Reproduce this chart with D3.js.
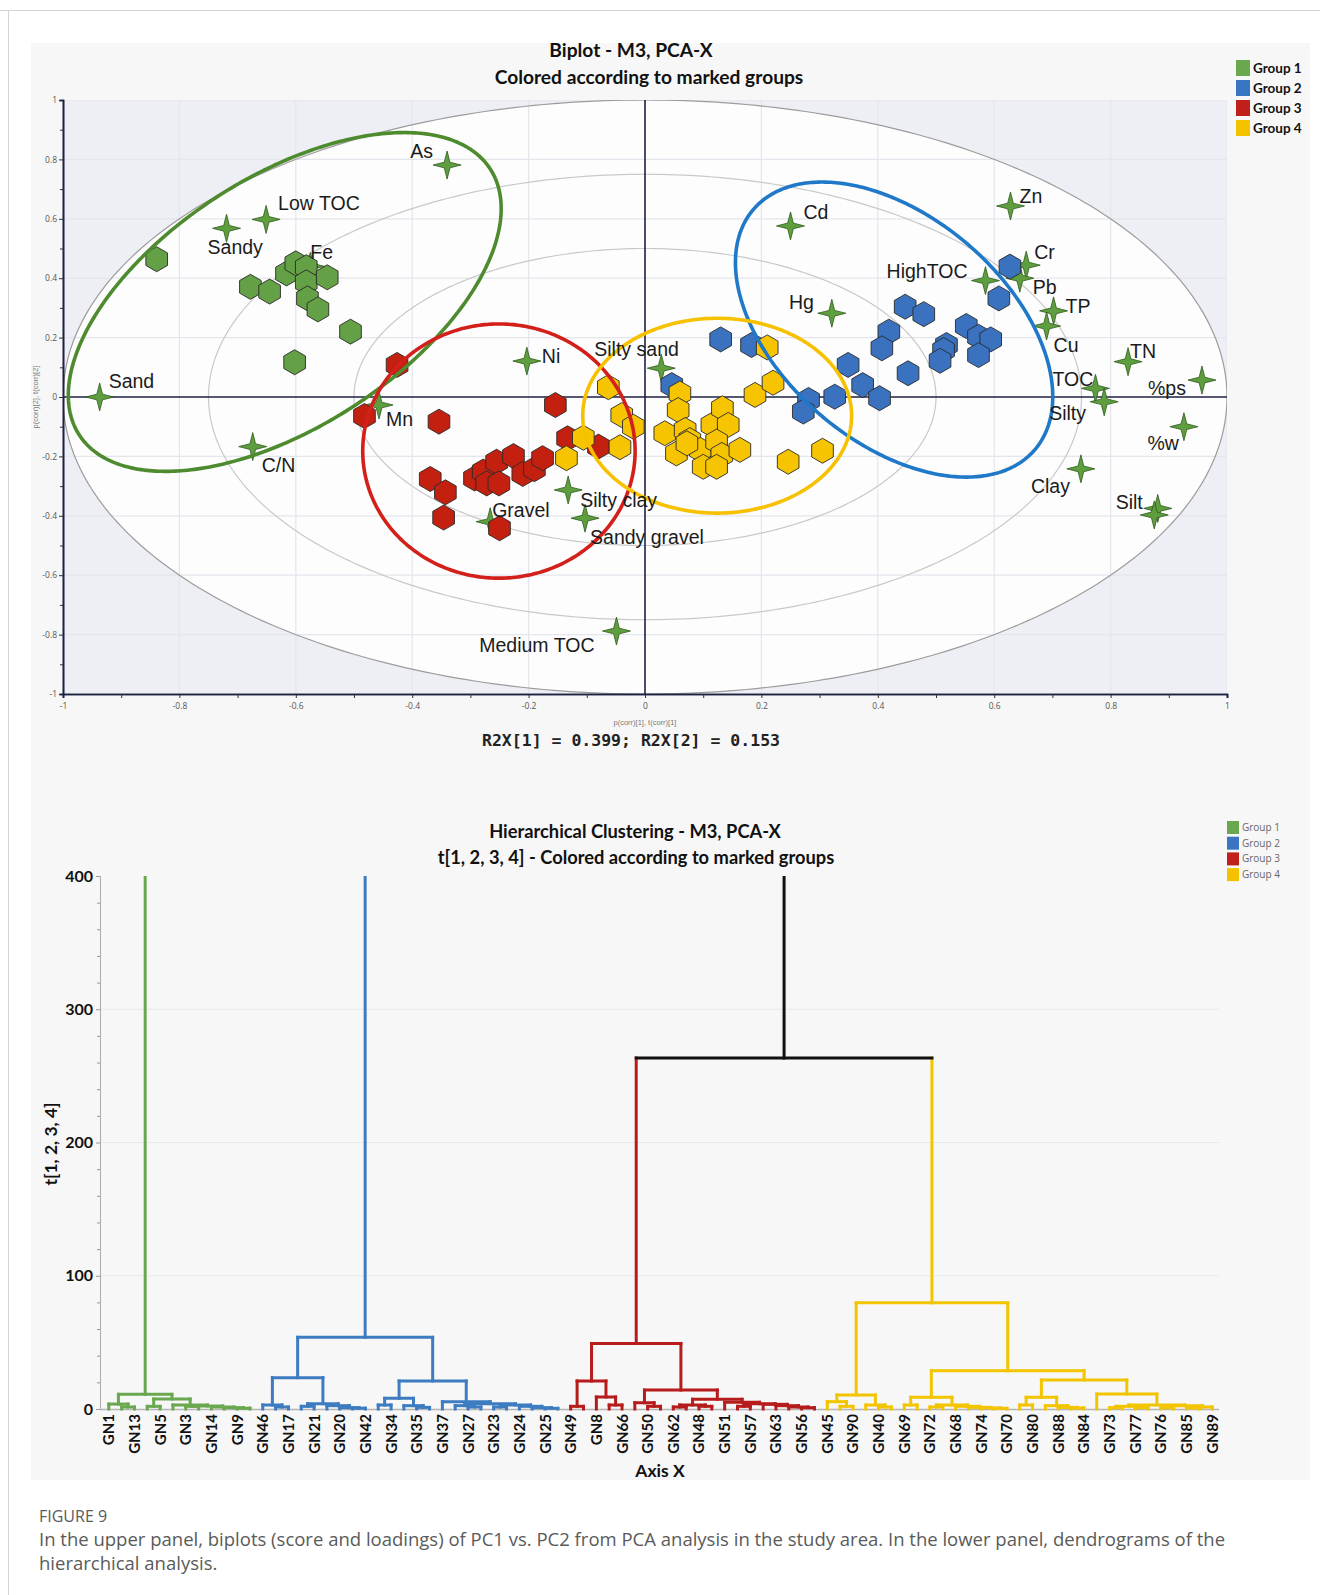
<!DOCTYPE html>
<html>
<head>
<meta charset="utf-8">
<script src="https://cdn.jsdelivr.net/npm/d3@7"></script>
<style>
  body { margin: 0; background: #fff; }
  svg text { font-family: "Liberation Sans", Arial, sans-serif; }
  svg text.ttl { font-family: Lato, "Open Sans", sans-serif; font-weight: 700; fill: #111; }
  svg text.cap { font-family: "Open Sans", sans-serif; fill: #5a5a5a; }
</style>
</head>
<body>
<svg id="fig" width="1320" height="1595"></svg>
<script>
// ---------- data ----------
const groupNames = ["Group 1", "Group 2", "Group 3", "Group 4"];

// score points t[1], t[2] for each marked group
const scoresGroup1 = [[-0.839,0.464],[-0.678,0.371],[-0.645,0.355],[-0.616,0.416],[-0.600,0.450],[-0.582,0.437],
  [-0.582,0.386],[-0.580,0.332],[-0.562,0.295],[-0.546,0.403],[-0.506,0.220],[-0.602,0.117]];
const scoresGroup2 = [[0.627,0.439],[0.608,0.332],[0.447,0.304],[0.479,0.279],[0.419,0.220],[0.407,0.164],
  [0.552,0.239],[0.573,0.203],[0.594,0.194],[0.573,0.141],[0.518,0.175],[0.513,0.158],[0.507,0.122],
  [0.452,0.080],[0.349,0.108],[0.374,0.040],[0.403,-0.004],[0.326,0.001],[0.281,-0.010],[0.272,-0.049],
  [0.130,0.194],[0.183,0.175],[0.046,0.040]];
const scoresGroup3 = [[-0.426,0.108],[-0.482,-0.064],[-0.354,-0.083],[-0.154,-0.027],[-0.133,-0.139],
  [-0.080,-0.167],[-0.369,-0.276],[-0.343,-0.321],[-0.346,-0.406],[-0.250,-0.442],[-0.293,-0.274],
  [-0.278,-0.251],[-0.272,-0.291],[-0.255,-0.218],[-0.226,-0.199],[-0.251,-0.291],[-0.210,-0.259],
  [-0.190,-0.243],[-0.176,-0.206]];
const scoresGroup4 = [[-0.063,0.033],[-0.040,-0.061],[-0.020,-0.100],[-0.106,-0.137],[-0.043,-0.169],
  [-0.135,-0.206],[0.060,0.012],[0.057,-0.044],[0.034,-0.122],[0.069,-0.111],[0.077,-0.145],[0.054,-0.190],
  [0.095,-0.178],[0.115,-0.094],[0.133,-0.038],[0.143,-0.094],[0.123,-0.150],[0.132,-0.195],[0.100,-0.235],
  [0.123,-0.235],[0.163,-0.178],[0.189,0.007],[0.220,0.048],[0.210,0.167],[0.246,-0.218],[0.305,-0.181],
  [0.072,-0.156]];

// loadings p(corr)[1], p(corr)[2]
const loadingNames = ["As","Low TOC","Sandy","Fe","Sand","Mn","C/N","Ni","Silty sand","Silty clay","Gravel",
  "Sandy gravel","Medium TOC","Cd","Zn","HighTOC","Cr","Pb","Hg","TP","Cu","TN","%ps","TOC","Silty","%w",
  "Clay","Silt",""];
const loadingX = [-0.340,-0.651,-0.719,-0.575,-0.937,-0.457,-0.674,-0.203,0.028,-0.132,-0.266,-0.103,-0.049,
  0.250,0.628,0.585,0.655,0.644,0.321,0.702,0.690,0.830,0.957,0.774,0.789,0.926,0.749,0.881,0.875];
const loadingY = [0.781,0.598,0.568,0.440,0.000,-0.027,-0.167,0.121,0.097,-0.313,-0.420,-0.408,-0.788,
  0.576,0.643,0.392,0.444,0.400,0.282,0.290,0.239,0.119,0.057,0.029,-0.016,-0.100,-0.242,-0.375,-0.397];

// group ellipses: centre and two conjugate semi-axes, in data units
const ellipseCentres = [[-0.619,0.320],[0.428,0.227],[-0.251,-0.182],[0.124,-0.063]];
const ellipseAxisU = [[0.353,0.448],[0.242,-0.404],[0.234,0],[0.231,0]];
const ellipseAxisV = [[0.117,-0.353],[-0.1255,-0.289],[0,0.428],[0,0.328]];

// reference circles
const circleRadii = [0.5, 0.75, 1];

const biplotTicks = [-1,-0.8,-0.6,-0.4,-0.2,0,0.2,0.4,0.6,0.8,1];
const biplotTickLabels = ["-1","-0.8","-0.6","-0.4","-0.2","0","0.2","0.4","0.6","0.8","1"];

// dendrogram
const dendroTicks = [0,100,200,300,400];
const dendroTickLabels = ["0","100","200","300","400"];
const leafGroupSizes = [12, 24, 20, 31];
// labels are shown on every second leaf
const leafLabels = ["GN1","GN13","GN5","GN3","GN14","GN9",
  "GN46","GN17","GN21","GN20","GN42","GN34","GN35","GN37","GN27","GN23","GN24","GN25",
  "GN49","GN8","GN66","GN50","GN62","GN48","GN51","GN57","GN63","GN56",
  "GN45","GN90","GN40","GN69","GN72","GN68","GN74","GN70","GN80","GN88","GN84","GN73","GN77","GN76","GN85","GN89"];
// [height, child, child]; a number is a leaf index
const clusterGreen = [11, [3.7, 0, [1.5, 1, 2]],
  [7.5, [2, 3, 4], [3, 5, [2.2, [2, 6, 7], [1.5, 8, [1, 9, [0.6, 10, 11]]]]]]];
const clusterBlue = [53.8,
  [23.5, [3, 12, [1.5, 13, 14]], [4, [2, 15, 16], [2.5, 17, [1, 18, [0.6, 19, 20]]]]],
  [21, [8, [3, 21, 22], [2.5, 23, [1.2, 24, 25]]],
       [5.5, 26, [4, [2.5, 27, [1.5, 28, 29]], [3, [1.5, 30, 31], [2, 32, [1, 33, [0.5, 34, 35]]]]]]]];
const clusterRed = [49.2,
  [21, [2, 36, 37], [9, 38, [3, 39, 40]]],
  [14.2, [4.7, 41, [2, 42, 43]],
         [7.3, [3, [1.5, 44, 45], [2, 46, 47]],
               [5, 48, [4, [2, 49, 50], [3.5, 51, [2.5, 52, [1.5, 53, [1, 54, 55]]]]]]]]];
const clusterYellow = [79.7,
  [10.5, [5.5, 56, [2, 57, 58]], [3, 59, [1.5, 60, 61]]],
  [28.7,
    [8.8, [3, 62, 63], [3, [1.5, 64, 65], [2, 66, [1.2, 67, [0.8, 68, [0.5, 69, 70]]]]]],
    [21.8,
      [8.8, [3, 71, 72], [2.5, 73, [1.2, 74, [0.8, 75, 76]]]],
      [11.2, 77, [3, [2, [1, 78, 79], [1, 80, 81]], [2.5, [1, 82, 83], [1.5, [0.8, 84, 85], 86]]]]]]];
const mergeTree = [700, [560, clusterGreen, clusterBlue], [263.5, clusterRed, clusterYellow]];

// ---------- styles ----------
const hexFill = ["#64a046", "#3a72bf", "#c42010", "#f6c400"];
const ringColor = ["#4e8a2e", "#1f78c8", "#d3201b", "#f7c100"];
const legendFill = ["#6aa84f", "#3a75c4", "#c0201a", "#f5c200"];
const dendroColor = ["#6aa84f", "#3d7cc0", "#b71c1c", "#f2c500"];

const svg = d3.select("#fig");

// page frame and panel background
svg.append("line").attr("x1", 0).attr("x2", 1320).attr("y1", 10.5).attr("y2", 10.5)
  .attr("stroke", "#d4d4d4");
svg.append("line").attr("x1", 8.5).attr("x2", 8.5).attr("y1", 10).attr("y2", 1595)
  .attr("stroke", "#d4d4d4");
svg.append("rect").attr("x", 31).attr("y", 43).attr("width", 1279).attr("height", 1437)
  .attr("fill", "#f7f7f7");

// ================= biplot =================
const x = d3.scaleLinear().domain([-1, 1]).range([63, 1227]);
const y = d3.scaleLinear().domain([-1, 1]).range([694, 100]);

svg.append("defs").append("clipPath").attr("id", "bpclip")
  .append("rect").attr("x", x(-1)).attr("y", y(1)).attr("width", x(1) - x(-1)).attr("height", y(-1) - y(1));

const bp = svg.append("g");
const plot = bp.append("g").attr("clip-path", "url(#bpclip)");

const ellipseLine = d3.line().curve(d3.curveLinearClosed);
const angles = d3.range(0, 2 * Math.PI, Math.PI / 180);
function ellipsePoints(c, u, v) {
  return angles.map(t => [x(c[0] + u[0] * Math.cos(t) + v[0] * Math.sin(t)),
                          y(c[1] + u[1] * Math.cos(t) + v[1] * Math.sin(t))]);
}

plot.append("rect").attr("x", x(-1)).attr("y", y(1)).attr("width", x(1) - x(-1)).attr("height", y(-1) - y(1))
  .attr("fill", "#edeff5");
plot.append("path").attr("d", ellipseLine(ellipsePoints([0, 0], [1, 0], [0, 1]))).attr("fill", "#fdfdfd");

// grid
const gridVals = biplotTicks.filter(d => d !== 0);
plot.selectAll("line.gx").data(gridVals).join("line").attr("class", "gx")
  .attr("x1", d => x(d)).attr("x2", d => x(d)).attr("y1", y(1)).attr("y2", y(-1))
  .attr("stroke", "#e3e6ec").attr("stroke-width", 1.2);
plot.selectAll("line.gy").data(gridVals).join("line").attr("class", "gy")
  .attr("y1", d => y(d)).attr("y2", d => y(d)).attr("x1", x(-1)).attr("x2", x(1))
  .attr("stroke", "#e3e6ec").attr("stroke-width", 1.2);

// reference circles
plot.selectAll("path.ring").data(circleRadii).join("path").attr("class", "ring")
  .attr("d", r => ellipseLine(ellipsePoints([0, 0], [r, 0], [0, r])))
  .attr("fill", "none").attr("stroke", r => r === 1 ? "#9c9c9c" : "#c9c9c9").attr("stroke-width", 1.2);

// zero lines
plot.append("line").attr("x1", x(0)).attr("x2", x(0)).attr("y1", y(1)).attr("y2", y(-1))
  .attr("stroke", "#1d2142").attr("stroke-width", 1.6);
plot.append("line").attr("x1", x(-1)).attr("x2", x(1)).attr("y1", y(0)).attr("y2", y(0))
  .attr("stroke", "#1d2142").attr("stroke-width", 1.6);

// axes
const minorTicks = d3.range(-9, 10, 2).map(d => d / 10);
function styleAxis(g) {
  g.select(".domain").attr("stroke", "#1d2142").attr("stroke-width", 1.6);
  g.selectAll(".tick line").attr("stroke", "#333");
  g.selectAll(".tick text").attr("fill", "#555").style("font-family", "'Open Sans', sans-serif").style("font-size", "8.5px");
}
bp.append("g").attr("transform", `translate(${x(-1)},0)`)
  .call(d3.axisLeft(y).tickValues(biplotTicks).tickFormat((d, i) => biplotTickLabels[i]).tickSize(4).tickPadding(2))
  .call(styleAxis);
bp.append("g").attr("transform", `translate(${x(-1)},0)`)
  .call(d3.axisLeft(y).tickValues(minorTicks).tickFormat("").tickSize(3)).call(styleAxis);
bp.append("g").attr("transform", `translate(0,${y(-1)})`)
  .call(d3.axisBottom(x).tickValues(biplotTicks).tickFormat((d, i) => biplotTickLabels[i]).tickSize(4).tickPadding(5))
  .call(styleAxis);
bp.append("g").attr("transform", `translate(0,${y(-1)})`)
  .call(d3.axisBottom(x).tickValues(minorTicks).tickFormat("").tickSize(4)).call(styleAxis);

// loadings (stars)
const starPath = (() => {
  const pts = d3.range(8).map(k => {
    const a = k * Math.PI / 4 - Math.PI / 2, r = k % 2 ? 4 : 14;
    return [r * Math.cos(a), r * Math.sin(a)];
  });
  return "M" + pts.join("L") + "Z";
})();
const loadings = loadingNames.map((n, i) => ({ name: n, px: loadingX[i], py: loadingY[i] }));
bp.selectAll("path.star").data(loadings).join("path").attr("class", "star")
  .attr("d", starPath)
  .attr("transform", d => `translate(${x(d.px)},${y(d.py)})`)
  .attr("fill", "#5e9e3e").attr("stroke", "#2f5a1d").attr("stroke-width", 0.8);

// scores (hexagons)
const hexPath = "M" + d3.range(6).map(k => {
  const a = k * Math.PI / 3 - Math.PI / 2;
  return [12.5 * Math.cos(a), 12.5 * Math.sin(a)];
}).join("L") + "Z";
const scoreSets = [scoresGroup1, scoresGroup2, scoresGroup3, scoresGroup4];
scoreSets.forEach((pts, g) => {
  bp.append("g").selectAll("path").data(pts).join("path")
    .attr("d", hexPath)
    .attr("transform", d => `translate(${x(d[0])},${y(d[1])})`)
    .attr("fill", hexFill[g]).attr("stroke", "#2a2a2a").attr("stroke-width", 0.9);
});

// group ellipses
bp.selectAll("path.grp").data(ellipseCentres).join("path").attr("class", "grp")
  .attr("d", (c, i) => ellipseLine(ellipsePoints(c, ellipseAxisU[i], ellipseAxisV[i])))
  .attr("fill", "none").attr("stroke", (c, i) => ringColor[i]).attr("stroke-width", 3.6);

// loading labels
const labelPlacement = {
  "As": [-14, -7, "end"], "Low TOC": [12, -9, "start"], "Sandy": [-19, 26, "start"], "Fe": [0, -7, "start"],
  "Sand": [9, -9, "start"], "Mn": [7, 21, "start"], "C/N": [9, 25, "start"], "Ni": [15, 2, "start"],
  "Silty sand": [-67, -12, "start"], "Silty clay": [12, 17, "start"], "Gravel": [2, -5, "start"],
  "Sandy gravel": [5, 26, "start"], "Medium TOC": [-22, 21, "end"], "Cd": [13, -7, "start"],
  "Zn": [9, -3, "start"], "HighTOC": [-18, -3, "end"], "Cr": [8, -6, "start"], "Pb": [13, 16, "start"],
  "Hg": [-18, -4, "end"], "TP": [12, 2, "start"], "Cu": [7, 26, "start"], "TN": [2, -4, "start"],
  "%ps": [-16, 15, "end"], "TOC": [-43, -2, "start"], "Silty": [-55, 18, "start"], "%w": [-5, 23, "end"],
  "Clay": [-11, 24, "end"], "Silt": [-15, 1, "end"]
};
bp.selectAll("text.lab").data(loadings.filter(d => d.name)).join("text").attr("class", "lab")
  .attr("x", d => x(d.px) + labelPlacement[d.name][0])
  .attr("y", d => y(d.py) + labelPlacement[d.name][1])
  .attr("text-anchor", d => labelPlacement[d.name][2])
  .attr("fill", "#1b1b1b").style("font-size", "19.5px")
  .text(d => d.name);

// titles and axis captions
bp.append("text").attr("class", "ttl").attr("x", 631).attr("y", 57).attr("text-anchor", "middle")
  .style("font-size", "19.2px").text("Biplot - M3, PCA-X");
bp.append("text").attr("class", "ttl").attr("x", 649).attr("y", 84).attr("text-anchor", "middle")
  .style("font-size", "19.2px").text("Colored according to marked groups");
bp.append("text").attr("x", x(0)).attr("y", 725).attr("text-anchor", "middle")
  .attr("fill", "#777").style("font-size", "7.5px").text("p(corr)[1], t(corr)[1]");
bp.append("text").attr("transform", `translate(38,${y(0)}) rotate(-90)`).attr("text-anchor", "middle")
  .attr("fill", "#777").style("font-size", "7.5px").text("p(corr)[2], t(corr)[2]");
bp.append("text").attr("x", 631).attr("y", 746).attr("text-anchor", "middle")
  .attr("fill", "#222").style("font-family", "'DejaVu Sans Mono', monospace").style("font-weight", "bold")
  .style("font-size", "16.5px").text("R2X[1] = 0.399; R2X[2] = 0.153");

// legend
const lg = bp.append("g").attr("transform", "translate(1236,60)");
groupNames.forEach((n, i) => {
  lg.append("rect").attr("x", 0).attr("y", i * 20).attr("width", 14).attr("height", 16).attr("fill", legendFill[i]);
  lg.append("text").attr("class", "ttl").attr("x", 17).attr("y", i * 20 + 13).style("font-size", "13.5px").text(n);
});

// ================= dendrogram =================
const dy = d3.scaleLinear().domain([0, 400]).range([1409, 876]);
const leafGroup = leafGroupSizes.flatMap((n, g) => d3.range(n).map(() => g));
const dx = d3.scalePoint().domain(d3.range(leafGroup.length)).range([108.8, 1212.2]);

const dd = svg.append("g");
dd.append("defs").append("clipPath").attr("id", "ddclip")
  .append("rect").attr("x", 90).attr("y", dy(400)).attr("width", 1140).attr("height", dy(0) - dy(400) + 10);

// grid
dd.selectAll("line.dg").data(dendroTicks.filter(d => d > 0 && d < 400)).join("line").attr("class", "dg")
  .attr("x1", 100).attr("x2", 1219).attr("y1", d => dy(d)).attr("y2", d => dy(d))
  .attr("stroke", "#e6e8ec").attr("stroke-width", 1.2);

// y axis
const dAxis = dd.append("g").attr("transform", "translate(100,0)")
  .call(d3.axisLeft(dy).tickValues(dendroTicks).tickFormat((d, i) => dendroTickLabels[i]).tickSize(4).tickPadding(3));
dd.append("g").attr("transform", "translate(100,0)")
  .call(d3.axisLeft(dy).tickValues(d3.range(20, 400, 20).filter(d => d % 100)).tickFormat("").tickSize(3))
  .call(g => { g.select(".domain").remove(); g.selectAll("line").attr("stroke", "#999"); });
dAxis.select(".domain").attr("stroke", "#aaa");
dAxis.selectAll(".tick line").attr("stroke", "#999");
dAxis.selectAll(".tick text").attr("fill", "#111").style("font-family", "Lato, sans-serif")
  .style("font-weight", "700").style("font-size", "16px");

// baseline
dd.append("line").attr("x1", 100).attr("x2", 1219).attr("y1", dy(0) + 0.5).attr("y2", dy(0) + 0.5)
  .attr("stroke", "#b5b5b5").attr("stroke-width", 1.5);

// tree
const root = d3.hierarchy(mergeTree, d => Array.isArray(d) ? d.slice(1) : null);
root.eachAfter(d => {
  if (d.children) {
    d.h = d.data[0];
    d.px = d3.mean(d.children, c => c.px);
    const gs = new Set(d.children.map(c => c.grp));
    d.grp = gs.size === 1 ? d.children[0].grp : -1;
  } else {
    d.h = 0;
    d.px = dx(d.data);
    d.grp = leafGroup[d.data];
  }
});
const colorOf = g => g < 0 ? "#111" : dendroColor[g];
const tree = dd.append("g").attr("clip-path", "url(#ddclip)")
  .attr("fill", "none").attr("stroke-width", 3).attr("stroke-linecap", "square");
tree.selectAll("path.v").data(root.descendants().filter(d => d.parent)).join("path").attr("class", "v")
  .attr("d", d => `M${d.px},${dy(d.h)}V${dy(d.parent.h)}`)
  .attr("stroke", d => colorOf(d.grp));
tree.selectAll("path.hz").data(root.descendants().filter(d => d.children)).join("path").attr("class", "hz")
  .attr("d", d => `M${d3.min(d.children, c => c.px)},${dy(d.h)}H${d3.max(d.children, c => c.px)}`)
  .attr("stroke", d => colorOf(d.grp));

// leaf labels
dd.selectAll("text.leaf").data(leafLabels).join("text").attr("class", "leaf")
  .attr("transform", (d, i) => `translate(${dx(2 * i) + 5.5},${dy(0) + 5}) rotate(-90)`)
  .attr("text-anchor", "end")
  .style("font-family", "Lato, sans-serif").style("font-weight", "700").style("font-size", "15px")
  .attr("fill", "#111").text(d => d);

dd.append("text").attr("class", "ttl").attr("x", 660).attr("y", 1477).attr("text-anchor", "middle")
  .style("font-size", "17.5px").text("Axis X");
dd.append("text").attr("class", "ttl").attr("transform", "translate(57,1144) rotate(-90)")
  .attr("text-anchor", "middle").style("font-size", "17.5px").text("t[1, 2, 3, 4]");
dd.append("text").attr("class", "ttl").attr("x", 635).attr("y", 838).attr("text-anchor", "middle")
  .style("font-size", "18.3px").text("Hierarchical Clustering - M3, PCA-X");
dd.append("text").attr("class", "ttl").attr("x", 636).attr("y", 864).attr("text-anchor", "middle")
  .style("font-size", "18.3px").text("t[1, 2, 3, 4] - Colored according to marked groups");

const dl = dd.append("g").attr("transform", "translate(1227,821)");
groupNames.forEach((n, i) => {
  dl.append("rect").attr("x", 0).attr("y", i * 15.7).attr("width", 12).attr("height", 13).attr("fill", legendFill[i]);
  dl.append("text").attr("x", 15).attr("y", i * 15.7 + 10).attr("fill", "#666")
    .style("font-family", "'Open Sans', sans-serif").style("font-size", "10px").text(n);
});

// ================= caption =================
svg.append("text").attr("class", "cap").attr("x", 39).attr("y", 1522).style("font-size", "16px").text("FIGURE 9");
const capLines = ["In the upper panel, biplots (score and loadings) of PC1 vs. PC2 from PCA analysis in the study area. In the lower panel, dendrograms of the",
  "hierarchical analysis."];
const cl = svg.selectAll("text.cl").data(capLines).join("text").attr("class", "cap cl")
  .attr("x", 39).attr("y", (d, i) => 1546 + i * 23.5).style("font-size", "16px").text(d => d);
// fit the first line to the printed width
const w0 = cl.node().getComputedTextLength();
cl.style("font-size", (16 * 1186 / w0).toFixed(2) + "px");
</script>
</body>
</html>
